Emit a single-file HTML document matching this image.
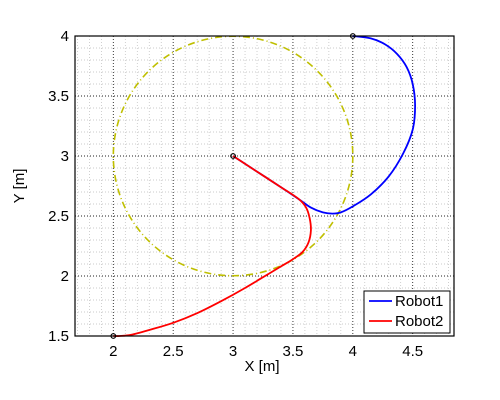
<!DOCTYPE html>
<html><head><meta charset="utf-8"><style>
body{margin:0;background:#fff;}
svg{display:block;font-family:"Liberation Sans",sans-serif;}
</style></head><body>
<svg id="chart" width="500" height="400">
<rect width="500" height="400" fill="#fff"/>
<g id="grid"></g><g id="series"></g><g id="axes"></g>
</svg>
<script>
const xTicks=[2,2.5,3,3.5,4,4.5];
const yTicks=[1.5,2,2.5,3,3.5,4];
const robot1X=[3,3.2,3.4,3.55,3.65,3.75,3.83,3.9,4.0,4.15,4.3,4.42,4.5,4.52,4.5,4.45,4.37,4.27,4.15,4.0];
const robot1Y=[3,2.87,2.74,2.64,2.57,2.53,2.52,2.53,2.58,2.68,2.83,3.02,3.22,3.42,3.6,3.74,3.85,3.93,3.98,4.0];
const robot2X=[3,3.2,3.4,3.55,3.61,3.64,3.65,3.63,3.58,3.5,3.4,3.25,3.1,2.9,2.7,2.5,2.3,2.15,2.05,2.0];
const robot2Y=[3,2.87,2.74,2.64,2.57,2.48,2.38,2.28,2.2,2.14,2.08,1.99,1.9,1.79,1.69,1.61,1.55,1.51,1.5,1.5];
const circleCenter=[3,3], circleRadius=1;
const X0=1.68,X1=4.845,Y0=1.5,Y1=4;
const L=75,R=454,T=36,B=336;
const sx=v=>L+(v-X0)/(X1-X0)*(R-L);
const sy=v=>B-(v-Y0)/(Y1-Y0)*(B-T);
const NS="http://www.w3.org/2000/svg";
function mk(tag,attrs,parent){const e=document.createElementNS(NS,tag);for(const k in attrs)e.setAttribute(k,attrs[k]);parent.appendChild(e);return e;}
const grid=document.getElementById('grid'),ser=document.getElementById('series'),ax=document.getElementById('axes');
for(let i=Math.ceil(X0*10);i<=Math.floor(X1*10);i++){const x=sx(i/10);const l=mk('line',{x1:x,x2:x,y1:T,y2:B,stroke:i%5?'#bbb':'#222','stroke-width':i%5?0.7:0.9,'stroke-dasharray':'1,2'},grid);
}
for(let i=Math.ceil(Y0*10);i<=Math.floor(Y1*10);i++){const y=sy(i/10);const l=mk('line',{x1:L,x2:R,y1:y,y2:y,stroke:i%5?'#bbb':'#222','stroke-width':i%5?0.7:0.9,'stroke-dasharray':'1,2'},grid);
}
const c=mk('circle',{cx:sx(circleCenter[0]),cy:sy(circleCenter[1]),r:circleRadius*(R-L)/(X1-X0),fill:'none',stroke:'#bfbf00','stroke-width':1.6,'stroke-dasharray':'7,3,1,3'},ser);

function path(xs,ys,col,name){
const P=xs.map((v,i)=>[sx(v),sy(ys[i])]);
let d='M'+P[0][0].toFixed(1)+','+P[0][1].toFixed(1);
for(let i=0;i<P.length-1;i++){const p0=P[Math.max(i-1,0)],p1=P[i],p2=P[i+1],p3=P[Math.min(i+2,P.length-1)];
const c1=[p1[0]+(p2[0]-p0[0])/6,p1[1]+(p2[1]-p0[1])/6],c2=[p2[0]-(p3[0]-p1[0])/6,p2[1]-(p3[1]-p1[1])/6];
d+='C'+c1[0].toFixed(1)+','+c1[1].toFixed(1)+' '+c2[0].toFixed(1)+','+c2[1].toFixed(1)+' '+p2[0].toFixed(1)+','+p2[1].toFixed(1);}
const p=mk('path',{d:d,fill:'none',stroke:col,'stroke-width':1.8,'stroke-linejoin':'round'},ser);
}
path(robot1X,robot1Y,'#0000ff','robot1-line');
path(robot2X,robot2Y,'#ff0000','robot2-line');
[[robot1X[0],robot1Y[0]],[robot1X[robot1X.length-1],robot1Y[robot1Y.length-1]],[robot2X[robot2X.length-1],robot2Y[robot2Y.length-1]]].forEach(p=>{
const m=mk('circle',{cx:sx(p[0]),cy:sy(p[1]),r:2.3,fill:'none',stroke:'#000','stroke-width':1.2},ser);
});
const f=mk('rect',{x:L,y:T,width:R-L,height:B-T,fill:'none',stroke:'#000','stroke-width':1.2},ax);

xTicks.forEach(v=>{const t=mk('text',{x:sx(v),y:B+20,'text-anchor':'middle','font-size':15},ax);t.textContent=v;
});
yTicks.forEach(v=>{const t=mk('text',{x:L-6,y:sy(v)+5,'text-anchor':'end','font-size':15},ax);t.textContent=v;
});
const xt=mk('text',{x:262,y:371,'text-anchor':'middle','font-size':15},ax);xt.textContent='X [m]';

const yt=mk('text',{x:24,y:186,'text-anchor':'middle','font-size':15,transform:'rotate(-90 24 186)'},ax);yt.textContent='Y [m]';

const lg=mk('g',{},ax);
mk('rect',{x:364,y:291,width:86,height:42,fill:'#fff',stroke:'#000','stroke-width':1},lg);
[['Robot1','#0000ff',306],['Robot2','#ff0000',326]].forEach(e=>{
const g=mk('g',{},lg);
mk('line',{x1:369,x2:392,y1:e[2]-5,y2:e[2]-5,stroke:e[1],'stroke-width':1.8},g);
const t=mk('text',{x:395,y:e[2],'font-size':15},g);t.textContent=e[0];});
</script>
</body></html>
